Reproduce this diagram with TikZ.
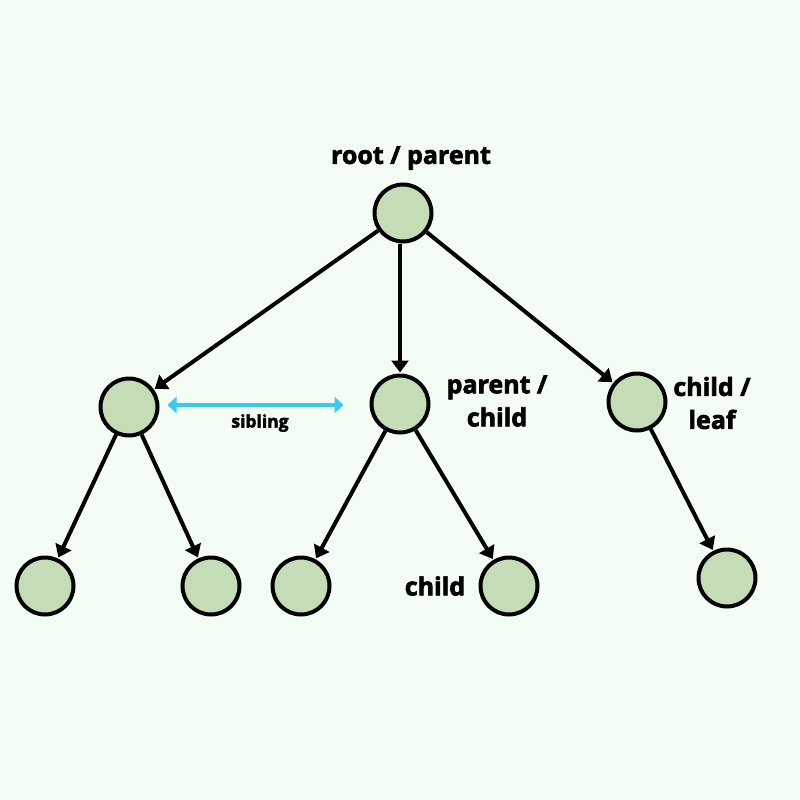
\documentclass[tikz,border=0pt]{standalone}
\usepackage{fontspec}
\setmainfont{Open Sans}[BoldFont={Open Sans Bold},BoldFeatures={FakeBold=2.5}]
\usetikzlibrary{arrows.meta}
\definecolor{bgc}{HTML}{F3FDF3}
\definecolor{nodec}{HTML}{C5DDB7}
\definecolor{sibc}{HTML}{3CC8F0}
\tikzset{
  tn/.style={circle, draw=black, fill=nodec, line width=4pt, minimum size=57pt, inner sep=0pt},
  edgearrow/.style={line width=4pt, -{Triangle[length=12pt,width=17pt]}, shorten >=1pt},
  sib/.style={draw=sibc, line width=4pt, {Triangle[length=9pt,width=16pt]}-{Triangle[length=9pt,width=16pt]}},
  lbl/.style={font=\bfseries\fontsize{25}{33}\selectfont, align=center, inner sep=0pt},
  slbl/.style={font=\bfseries\fontsize{17.5}{20}\selectfont, inner sep=0pt}
}
\begin{document}
\begin{tikzpicture}[x=1pt,y=-1pt]
\fill[bgc] (0,0) rectangle (800,800);
\useasboundingbox (0,0) rectangle (800,800);
\node[tn] (root) at (403,213) {};
\node[tn] (l1a) at (129,407) {};
\node[tn] (l1b) at (400,404) {};
\node[tn] (l1c) at (637,402) {};
\node[tn] (l2a) at (45,586) {};
\node[tn] (l2b) at (211,586) {};
\node[tn] (l2c) at (301,586) {};
\node[tn] (l2d) at (509,586) {};
\node[tn] (l2e) at (727,578) {};
\draw[edgearrow] (root) -- (l1a);
\draw[edgearrow] (root.south -| l1b.north) -- (l1b.north);
\draw[edgearrow] (root) -- (l1c);
\draw[edgearrow] (l1a) -- (l2a);
\draw[edgearrow] (l1a) -- (l2b);
\draw[edgearrow] (l1b) -- (l2c);
\draw[edgearrow] (l1b) -- (l2d);
\draw[edgearrow] (l1c) -- (l2e);
\draw[sib, shorten <=8pt, shorten >=26pt] ([yshift=2pt]l1a.east) -- ([yshift=2pt]l1a.east -| l1b.west);
\node[slbl] (sl) at (260,423) {sibling};
\node[lbl] (rl) at (411,158) {root / parent};
\node[lbl] (pl) at (497,401) {parent /\\child};
\node[lbl] (cl) at (712,403) {child /\\leaf};
\node[lbl] (chl) at (435,586) {child};
\end{tikzpicture}
\end{document}
